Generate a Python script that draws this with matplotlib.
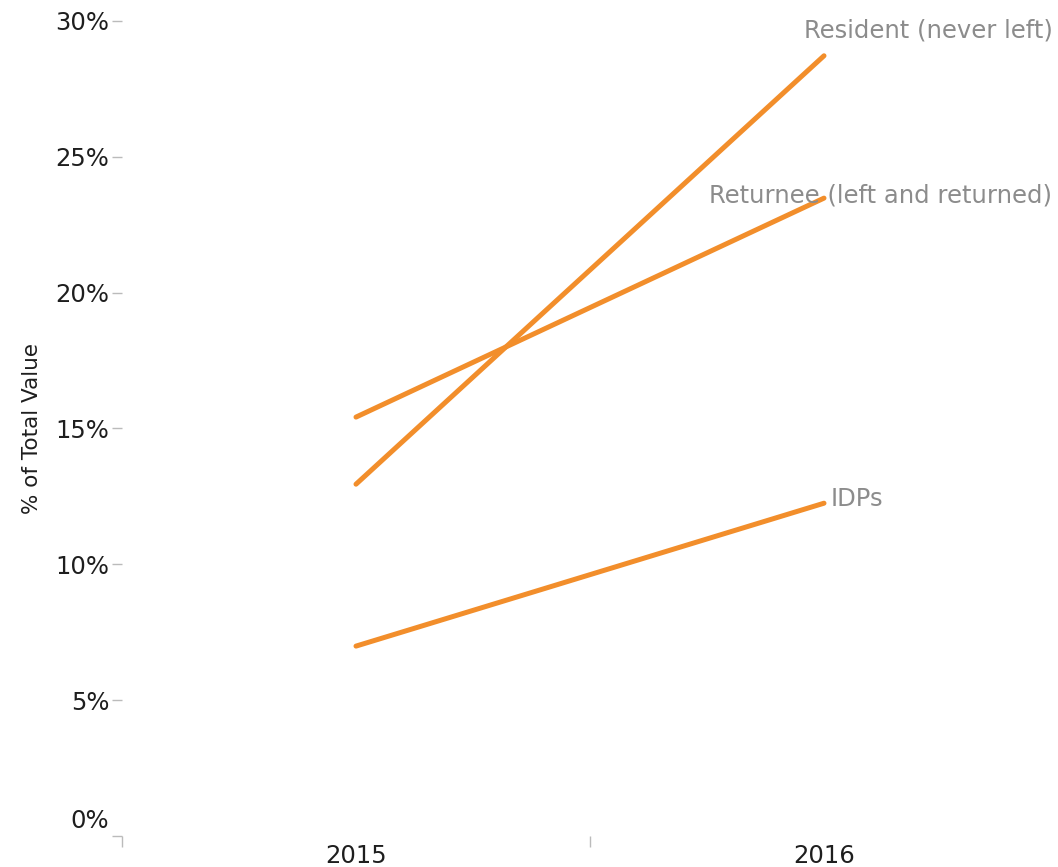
import matplotlib
matplotlib.use("Agg")
from matplotlib import pyplot as plt
from matplotlib.transforms import ScaledTranslation

# DATA
years = ["2015", "2016"]
series_names = ["Resident (never left)", "Returnee (left and returned)", "IDPs"]
resident = [12.95, 28.72]
returnee = [15.42, 23.48]
idps = [6.99, 12.25]
y_ticks = [0, 5, 10, 15, 20, 25, 30]
y_tick_labels = ["0%", "5%", "10%", "15%", "20%", "25%", "30%"]

# label offsets in pixels relative to the 2016 point, and alignment
label_offsets = [(229, 25, "right"), (228, 3, "right"), (7, 4, "left")]

LINE_COLOR = "#F28E2B"
LABEL_COLOR = "#8C8C8C"

plt.rcParams["font.family"] = ["DejaVu Sans"]


def main():
    fig = plt.figure(figsize=(10.58, 8.67), dpi=100)
    ax = fig.add_axes([122 / 1058, 1 - 836 / 867, 1 - 122 / 1058, (836 - 21) / 867])

    xs = [0.5, 1.5]
    for name, vals, (dx, dy, ha) in zip(series_names, [resident, returnee, idps], label_offsets):
        ax.plot(xs, vals, color=LINE_COLOR, linewidth=3.6, solid_capstyle="round")
        ax.annotate(name, xy=(xs[1], vals[1]), xytext=(dx, dy),
                    textcoords="offset pixels", ha=ha, va="center",
                    fontsize=17.5, color=LABEL_COLOR, annotation_clip=False)

    ax.set_xlim(0, 2)
    ax.set_ylim(0, 30)

    for s in ax.spines.values():
        s.set_visible(False)

    ax.set_yticks(y_ticks)
    ax.set_yticklabels(y_tick_labels)
    ax.tick_params(axis="y", length=7, width=1, color="#BBBBBB",
                   labelsize=17.5, labelcolor="#1E1E1E", pad=2)

    # the 0% label sits a bit above its tick
    zero_lbl = ax.get_yticklabels()[0]
    zero_lbl.set_transform(zero_lbl.get_transform()
                           + ScaledTranslation(0, 18 / 100, fig.dpi_scale_trans))

    # major x ticks are just marks at category boundaries, labels sit on minor ticks
    ax.set_xticks([0, 1])
    ax.set_xticklabels(["", ""])
    ax.set_xticks(xs, minor=True)
    ax.set_xticklabels(years, minor=True)
    ax.tick_params(axis="x", which="major", length=8, width=1, color="#BBBBBB")
    ax.tick_params(axis="x", which="minor", length=0, labelsize=17.5,
                   labelcolor="#1E1E1E", pad=6)

    ax.set_ylabel("% of Total Value", fontsize=15.5, color="#1E1E1E", labelpad=10)

    fig.savefig("out.png", dpi=100)


if __name__ == "__main__":
    main()
